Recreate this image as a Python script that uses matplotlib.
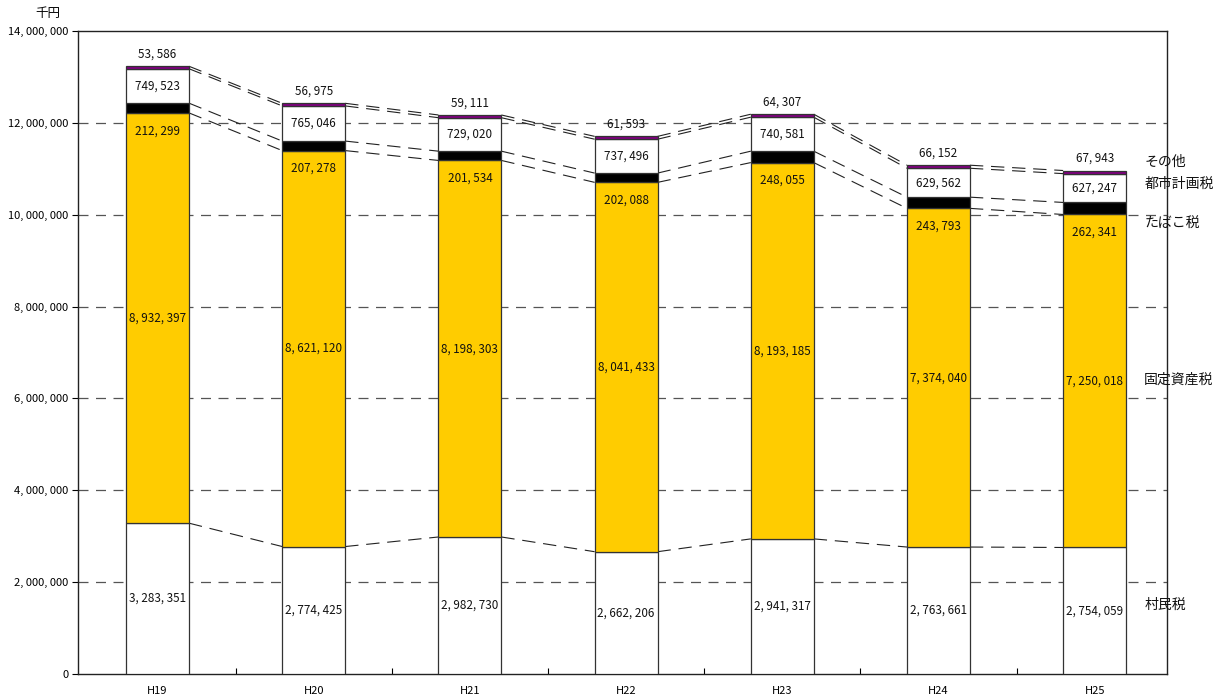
import numpy as np
import matplotlib
matplotlib.use("Agg")
from matplotlib import pyplot as plt

plt.rcParams["font.family"] = ["Noto Sans CJK JP", "DejaVu Sans"]

years = ["H19", "H20", "H21", "H22", "H23", "H24", "H25"]
sonminzei = [3283351, 2774425, 2982730, 2662206, 2941317, 2763661, 2754059]
kotei = [8932397, 8621120, 8198303, 8041433, 8193185, 7374040, 7250018]
tabako = [212299, 207278, 201534, 202088, 248055, 243793, 262341]
toshi = [749523, 765046, 729020, 737496, 740581, 629562, 627247]
sonota = [53586, 56975, 59111, 61593, 64307, 66152, 67943]

series_names = ["村民税", "固定資産税", "たばこ税", "都市計画税", "その他"]
series_colors = ["#FFFFFF", "#FFCC00", "#000000", "#FFFFFF", "#800080"]
# where the category names sit on the right edge (data units)
name_y = [1500000, 6400000, 9800000, 10670000, 11150000]


def fmt(v):
    return f"{v:,}".replace(",", ", ")


fig = plt.figure(figsize=(12.27, 6.99), dpi=100)
ax = fig.add_axes([0.0636, 0.0358, 0.8876, 0.9199])

x = np.arange(len(years))
width = 0.403
data = [sonminzei, kotei, tabako, toshi, sonota]
bottom = np.zeros(len(years))
tops = []
for vals, color in zip(data, series_colors):
    vals = np.array(vals, dtype=float)
    ax.bar(x, vals, width, bottom=bottom, color=color, edgecolor="#333333",
           linewidth=0.9, zorder=3)
    bottom = bottom + vals
    tops.append(bottom.copy())

# series lines between neighbouring bars
for top in tops:
    for i in range(len(years) - 1):
        ax.plot([x[i] + width / 2, x[i + 1] - width / 2], [top[i], top[i + 1]],
                color="#222222", lw=0.8, linestyle=(0, (12, 7)), zorder=2)

lab_kw = dict(ha="center", va="center", fontsize=8.4, color="#111111", zorder=5)
for i in range(len(years)):
    # 村民税, 固定資産税: centred
    ax.text(x[i], sonminzei[i] / 2, fmt(sonminzei[i]), **lab_kw)
    ax.text(x[i], sonminzei[i] + kotei[i] / 2, fmt(kotei[i]), **lab_kw)
    # たばこ税: just below its thin band
    ax.annotate(fmt(tabako[i]), (x[i], sonminzei[i] + kotei[i]),
                xytext=(0, -18), textcoords="offset pixels", **lab_kw)
    ax.text(x[i], tops[2][i] + toshi[i] / 2, fmt(toshi[i]), **lab_kw)
    ax.annotate(fmt(sonota[i]), (x[i], tops[4][i]),
                xytext=(0, 12), textcoords="offset pixels", **lab_kw)

name_tf = ax.get_yaxis_transform()
for name, y in zip(series_names, name_y):
    ax.text(0.979, y, name, transform=name_tf, ha="left", va="center",
            fontsize=10, color="#111111", clip_on=False, zorder=5)

ax.set_xlim(-0.509, 6.464)
ax.set_ylim(0, 14000000)
yt = np.arange(0, 14000001, 2000000)
ax.set_yticks(yt)
ax.set_yticklabels([fmt(int(v)) for v in yt], fontsize=8)
ax.set_xticks(x)
ax.set_xticklabels(years, fontsize=8)
ax.tick_params(axis="x", length=0, pad=9)
ax.set_xticks(np.arange(0.5, len(years) - 0.5), minor=True)
ax.tick_params(axis="x", which="minor", direction="in", length=4, width=0.8)
ax.tick_params(axis="y", length=4, width=0.8, pad=3)

for v in yt[1:-1]:
    ax.axhline(v, color="#555555", lw=0.9, linestyle=(0, (8, 6)), zorder=1)

for sp in ax.spines.values():
    sp.set_color("#222222")
    sp.set_linewidth(1.0)

fig.text(48 / 1227, 1 - 14 / 699, "千円", ha="center", va="center", fontsize=9)

fig.savefig("out.png", dpi=100)
